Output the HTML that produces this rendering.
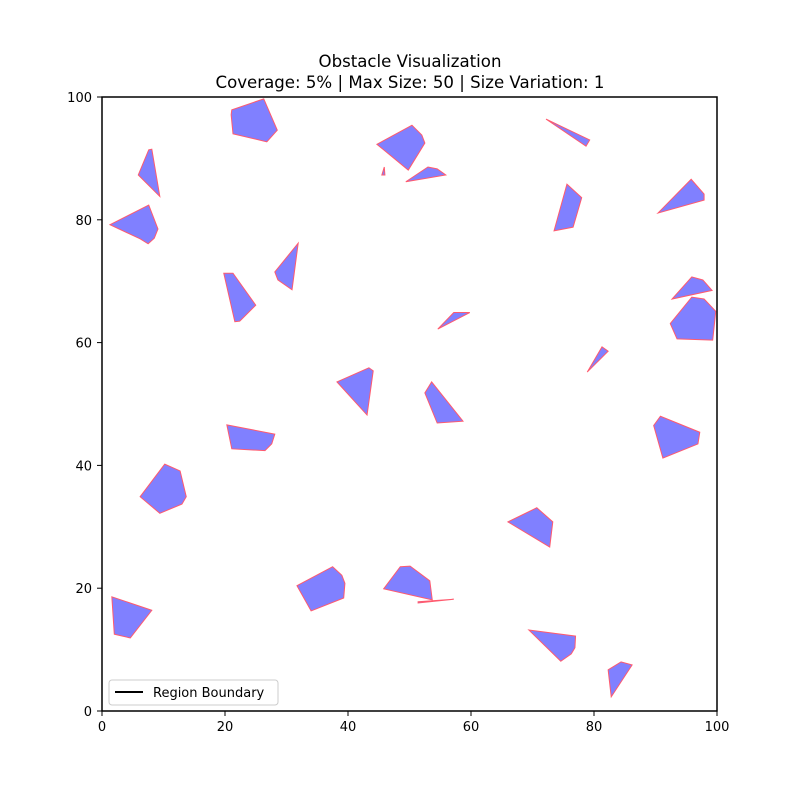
<!DOCTYPE html>
<html><head><meta charset="utf-8"><style>
body{margin:0;background:#fff}
svg{display:block;font-family:"DejaVu Sans","Liberation Sans",sans-serif}
</style></head><body>
<svg id="chart" width="800" height="800" viewBox="0 0 800 800">
<rect width="800" height="800" fill="#fff"/>
<text x="410" y="67" font-size="16.6" text-anchor="middle">Obstacle Visualization</text>
<text x="410" y="88" font-size="16.6" text-anchor="middle">Coverage: 5% | Max Size: 50 | Size Variation: 1</text>
<g id="obs"></g>
<g id="axes"></g>
<rect x="102" y="97" width="615" height="614" fill="none" stroke="#000" stroke-width="1.5"/>
<g>
<rect x="109" y="680" width="169" height="25" rx="3" fill="#fff" fill-opacity="0.8" stroke="#ccc"/>
<line x1="115" y1="692" x2="143" y2="692" stroke="#000" stroke-width="2"/>
<text x="153" y="697" font-size="13">Region Boundary</text>
</g>
</svg>
<script>
const xTicks=[0,20,40,60,80,100];
const yTicks=[0,20,40,60,80,100];
const obstacles=[
[[21.1,97.9],[26.3,99.7],[28.5,94.6],[26.8,92.7],[21.3,94.0],[21.0,97.1]],
[[5.9,87.3],[7.6,91.4],[8.1,91.5],[9.4,83.8]],
[[1.3,79.2],[7.6,82.4],[9.1,78.5],[8.5,77.0],[7.5,76.1],[6.2,76.9]],
[[44.7,92.3],[50.4,95.4],[52.0,93.8],[52.5,92.5],[49.8,88.1]],
[[45.5,87.3],[45.9,88.6],[46.0,87.3]],
[[49.4,86.2],[53.0,88.6],[54.5,88.3],[55.9,87.3]],
[[72.2,96.4],[79.3,93.0],[78.7,92.0]],
[[73.5,78.2],[75.6,85.8],[78.0,83.6],[76.6,78.8]],
[[90.4,81.1],[95.8,86.6],[97.9,84.2],[97.9,83.2]],
[[28.1,71.5],[31.9,76.2],[30.9,68.6],[28.6,70.2]],
[[19.8,71.3],[21.3,71.3],[25.0,66.1],[22.4,63.5],[21.6,63.4]],
[[54.6,62.2],[57.2,64.9],[59.8,64.9]],
[[92.7,67.1],[95.9,70.7],[97.7,70.2],[99.2,68.5]],
[[92.4,63.1],[95.9,67.4],[97.9,67.1],[99.8,65.1],[99.3,60.4],[93.5,60.6]],
[[78.9,55.2],[81.3,59.3],[82.3,58.6]],
[[38.2,53.6],[43.4,55.9],[44.1,55.4],[43.1,48.2]],
[[52.5,51.8],[53.6,53.6],[58.7,47.2],[54.5,46.9]],
[[20.3,46.6],[28.1,45.1],[27.6,43.5],[26.5,42.4],[21.1,42.7]],
[[89.7,46.5],[90.8,48.0],[97.2,45.4],[96.9,43.5],[91.2,41.2]],
[[6.2,34.9],[10.2,40.2],[12.7,39.1],[13.7,34.9],[13.0,33.7],[9.4,32.2]],
[[66.0,30.8],[70.7,33.1],[73.3,30.8],[72.8,26.7]],
[[31.7,20.4],[37.5,23.5],[39.0,22.1],[39.5,20.8],[39.3,18.4],[34.0,16.3]],
[[45.8,19.9],[48.5,23.5],[50.1,23.6],[53.3,21.2],[53.7,18.1]],
[[51.4,17.8],[57.2,18.2],[51.4,17.6]],
[[1.6,18.6],[8.1,16.4],[4.6,11.9],[2.0,12.5]],
[[69.4,13.2],[77.0,12.2],[76.9,10.3],[76.3,9.3],[74.6,8.1]],
[[82.3,6.7],[84.4,8.0],[86.2,7.5],[82.8,2.3]]
];
const NS="http://www.w3.org/2000/svg";
const X=v=>102+v*6.15, Y=v=>711-v*6.14;
const og=document.getElementById('obs');
obstacles.forEach((p,i)=>{
 const el=document.createElementNS(NS,'polygon');
 el.setAttribute('points',p.map(q=>X(q[0])+','+Y(q[1])).join(' '));
 el.setAttribute('fill','#8080ff');
 el.setAttribute('stroke','#ff5a6e');
 el.setAttribute('stroke-width','1');
 
 
 og.appendChild(el);
});
const ag=document.getElementById('axes');
xTicks.forEach(t=>{
 const l=document.createElementNS(NS,'line');
 l.setAttribute('x1',X(t));l.setAttribute('x2',X(t));l.setAttribute('y1',711);l.setAttribute('y2',716);l.setAttribute('stroke','#000');
 
 
 ag.appendChild(l);
 const tx=document.createElementNS(NS,'text');
 tx.setAttribute('x',X(t));tx.setAttribute('y',731);tx.setAttribute('font-size','13');tx.setAttribute('text-anchor','middle');
 tx.textContent=t;
 
 
 ag.appendChild(tx);
});
yTicks.forEach(t=>{
 const l=document.createElementNS(NS,'line');
 l.setAttribute('x1',97);l.setAttribute('x2',102);l.setAttribute('y1',Y(t));l.setAttribute('y2',Y(t));l.setAttribute('stroke','#000');
 
 
 ag.appendChild(l);
 const tx=document.createElementNS(NS,'text');
 tx.setAttribute('x',92);tx.setAttribute('y',Y(t)+5);tx.setAttribute('font-size','13');tx.setAttribute('text-anchor','end');
 tx.textContent=t;
 
 
 ag.appendChild(tx);
});
</script>
</body></html>
